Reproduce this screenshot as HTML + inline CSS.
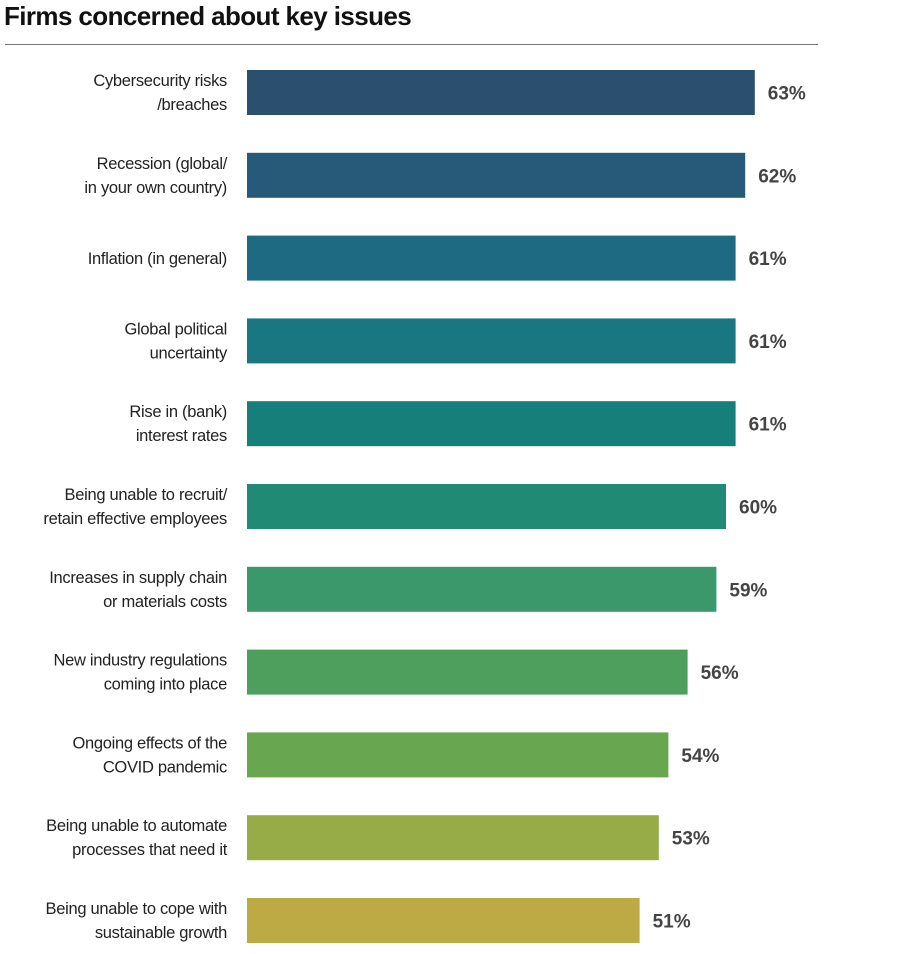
<!DOCTYPE html>
<html><head><meta charset="utf-8">
<style>
body{margin:0;background:#fff;width:900px;height:954px;overflow:hidden;font-family:"Liberation Sans",sans-serif;}
#title{position:absolute;left:4px;top:1px;font-size:26px;font-weight:bold;color:#111;letter-spacing:-0.6px;}
#rule{position:absolute;left:5px;top:44px;width:813px;height:1px;background:#777;}
svg{position:absolute;left:0;top:0;}
</style></head>
<body>
<div id="title">Firms concerned about key issues</div>
<div id="rule"></div>
<svg id="chart" width="900" height="954"></svg>
<script>
const categoriesLine1 = ["Cybersecurity risks","Recession (global/","Inflation (in general)","Global political","Rise in (bank)","Being unable to recruit/","Increases in supply chain","New industry regulations","Ongoing effects of the","Being unable to automate","Being unable to cope with"];
const categoriesLine2 = ["/breaches","in your own country)","","uncertainty","interest rates","retain effective employees","or materials costs","coming into place","COVID pandemic","processes that need it","sustainable growth"];
const values = [63,62,61,61,61,60,59,56,54,53,51];
const valueLabels = ["63%","62%","61%","61%","61%","60%","59%","56%","54%","53%","51%"];
const colors = ["#2b4f6f","#275a79","#1d6a82","#187780","#167f7a","#208a74","#3a986b","#4e9f5e","#68a64f","#97ab46","#bcab45"];

const svg = document.getElementById('chart');
const NS = 'http://www.w3.org/2000/svg';
const x0 = 247;
function xScale(v){ return 150 + v * 9.6; }
function yScale(i){ return 70 + i * 82.8; }
const barH = 45;

values.forEach((v, i) => {
  const y = yScale(i);
  const r = document.createElementNS(NS, 'rect');
  
  
  r.setAttribute('x', x0);
  r.setAttribute('y', y);
  r.setAttribute('width', xScale(v) - x0);
  r.setAttribute('height', barH);
  r.setAttribute('fill', colors[i]);
  svg.appendChild(r);

  const t = document.createElementNS(NS, 'text');
  
  
  t.setAttribute('x', xScale(v) + 13);
  t.setAttribute('y', y + barH / 2 + 7);
  t.setAttribute('font-size', '19');
  t.setAttribute('font-weight', 'bold');
  t.setAttribute('fill', '#444');
  t.textContent = valueLabels[i];
  svg.appendChild(t);

  const two = categoriesLine2[i] !== '';
  const l1 = document.createElementNS(NS, 'text');
  
  
  l1.setAttribute('x', 227);
  l1.setAttribute('y', two ? y + 16 : y + barH / 2 + 6);
  l1.setAttribute('text-anchor', 'end');
  l1.setAttribute('font-size', '16.5');
  l1.setAttribute('letter-spacing', '-0.3');
  l1.setAttribute('fill', '#222');
  l1.textContent = categoriesLine1[i];
  svg.appendChild(l1);
  if (two) {
    const l2 = document.createElementNS(NS, 'text');
    
    
    l2.setAttribute('x', 227);
    l2.setAttribute('y', y + 40);
    l2.setAttribute('text-anchor', 'end');
    l2.setAttribute('font-size', '16.5');
    l2.setAttribute('letter-spacing', '-0.3');
    l2.setAttribute('fill', '#222');
    l2.textContent = categoriesLine2[i];
    svg.appendChild(l2);
  }
});
</script>
</body></html>
